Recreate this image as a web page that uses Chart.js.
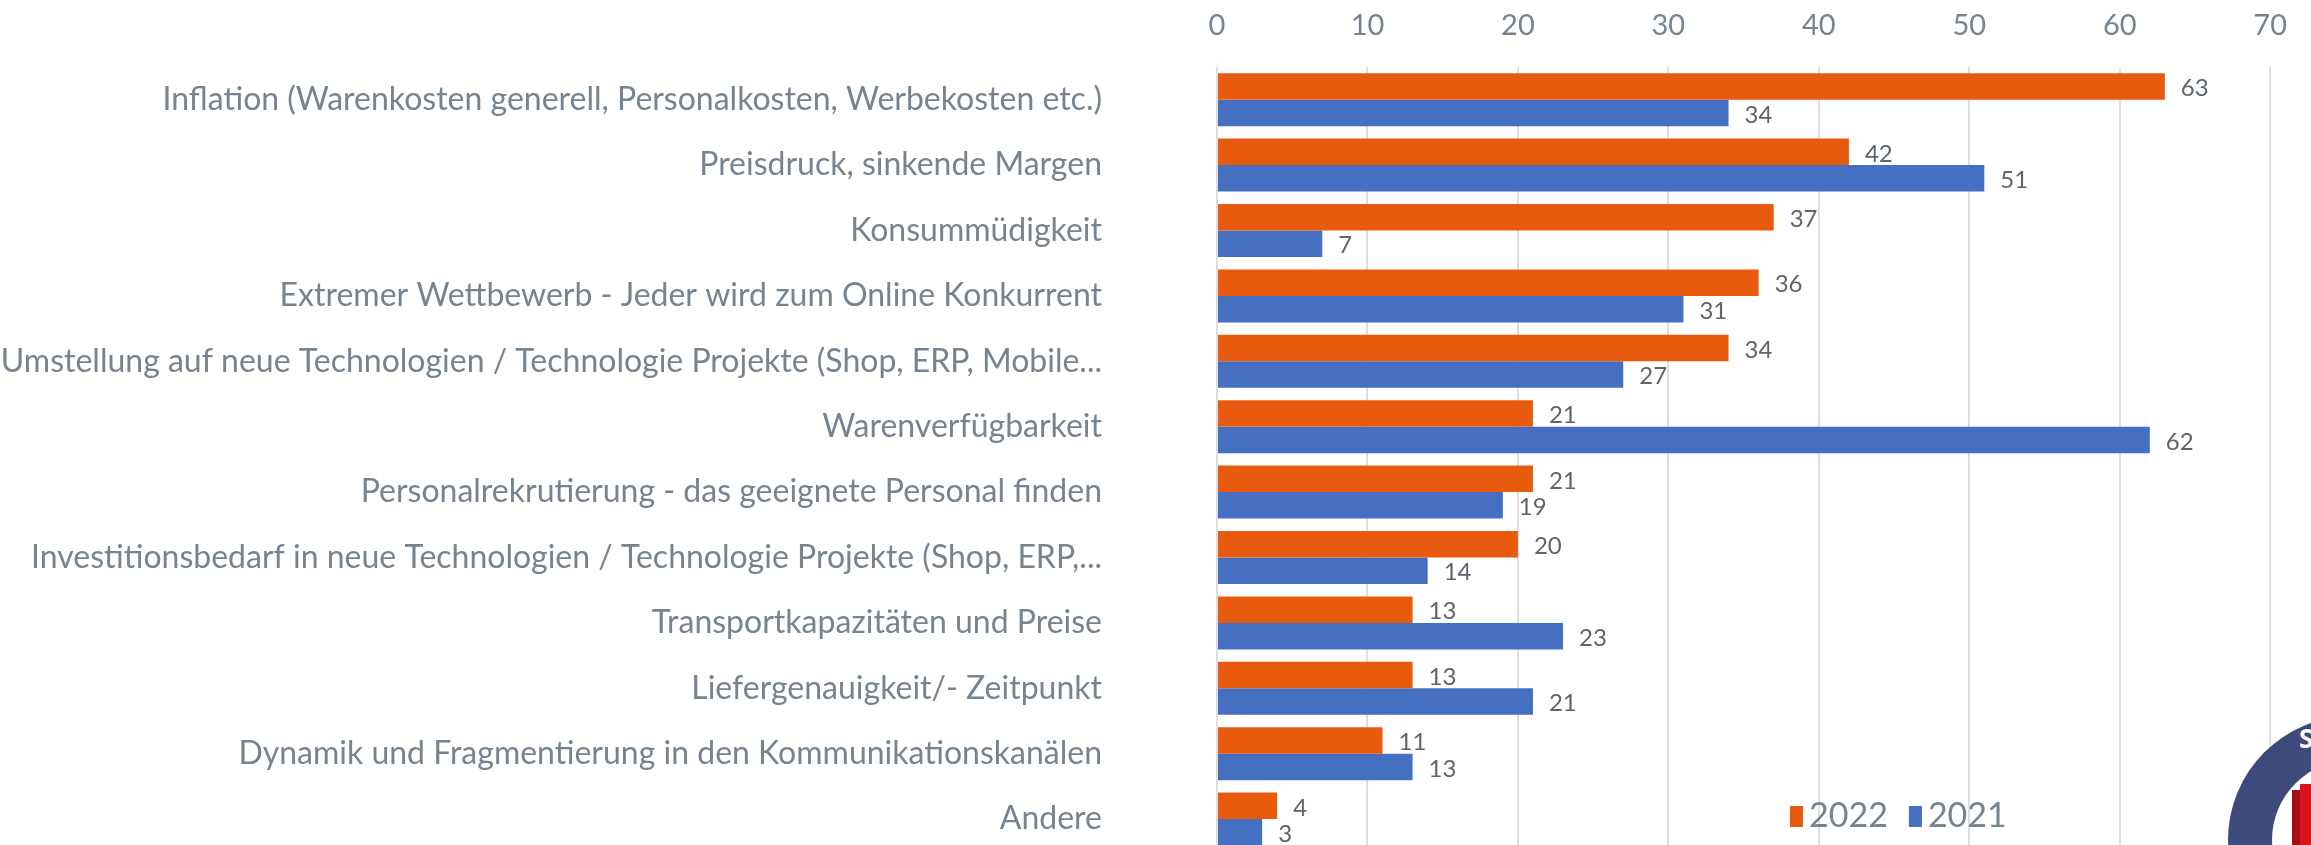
<!DOCTYPE html>
<html>
<head>
<meta charset="utf-8">
<script src="https://cdn.jsdelivr.net/npm/chart.js@4"></script>
<style>
  html, body { margin: 0; padding: 0; background: #fff; overflow: hidden; }
  #wrap { width: 2311px; height: 879px; }
</style>
</head>
<body>
<div id="wrap"><canvas id="mycanvas" width="2311" height="879"></canvas></div>
<script>
var categories = [
	"Inflation (Warenkosten generell, Personalkosten, Werbekosten etc.)",
	"Preisdruck, sinkende Margen",
	"Konsummüdigkeit",
	"Extremer Wettbewerb - Jeder wird zum Online Konkurrent",
	"Umstellung auf neue Technologien / Technologie Projekte (Shop, ERP, Mobile...",
	"Warenverfügbarkeit",
	"Personalrekrutierung - das geeignete Personal finden",
	"Investitionsbedarf in neue Technologien / Technologie Projekte (Shop, ERP,...",
	"Transportkapazitäten und Preise",
	"Liefergenauigkeit/- Zeitpunkt",
	"Dynamik und Fragmentierung in den Kommunikationskanälen",
	"Andere"
];
var seriesNames = ["2022", "2021"];
var values2022 = [63, 42, 37, 36, 34, 21, 21, 20, 13, 13, 11, 4];
var values2021 = [34, 51, 7, 31, 27, 62, 19, 14, 23, 21, 13, 3];
var axisMin = 0;
var axisMax = 70;
var axisStep = 10;

var textGray = '#77838f';
var colors = ['#e85b0e', '#4570c2'];

// numbers printed right of each bar
var valueLabels = {
	id: 'valueLabels',
	afterDatasetsDraw: function(chart) {
		var ctx = chart.ctx;
		ctx.save();
		ctx.font = '24px Lato';
		ctx.fillStyle = '#5d646b';
		ctx.textBaseline = 'middle';
		chart.data.datasets.forEach(function(ds, i) {
			chart.getDatasetMeta(i).data.forEach(function(bar, j) {
				ctx.fillText(ds.data[j], bar.x + 16, bar.y + 2);
			});
		});
		ctx.restore();
	}
};

// legend sits inside the plot, bottom right
var insideLegend = {
	id: 'insideLegend',
	afterDraw: function(chart) {
		var ctx = chart.ctx;
		var x = 1790, y = 816;
		ctx.save();
		ctx.font = '34px Lato';
		ctx.textBaseline = 'middle';
		chart.data.datasets.forEach(function(ds) {
			ctx.fillStyle = ds.backgroundColor;
			ctx.fillRect(x, y - 10, 13, 21);
			ctx.fillStyle = textGray;
			ctx.fillText(ds.label, x + 19, y);
			x += 19 + ctx.measureText(ds.label).width + 21;
		});
		ctx.restore();
	}
};

// partial logo cut by the bottom right corner
var logo = {
	id: 'logo',
	afterDraw: function(chart) {
		var ctx = chart.ctx;
		ctx.save();
		ctx.beginPath();
		ctx.arc(2352, 840, 124, 0, Math.PI * 2);
		ctx.fillStyle = '#3d4a7c';
		ctx.fill();
		ctx.beginPath();
		ctx.arc(2352, 840, 80, 0, Math.PI * 2);
		ctx.fillStyle = '#fff';
		ctx.fill();
		ctx.fillStyle = '#a80d14';
		ctx.fillRect(2292, 790, 8, 60);
		ctx.fillStyle = '#d9141c';
		ctx.fillRect(2300, 784, 14, 66);
		ctx.fillStyle = '#fff';
		ctx.font = 'bold 26px "Open Sans"';
		ctx.textBaseline = 'middle';
		ctx.fillText('S', 2299, 741);
		ctx.restore();
	}
};

var chartdata = {
	labels: categories,
	datasets: [
		{
			label: seriesNames[0],
			backgroundColor: colors[0],
			data: values2022
		},
		{
			label: seriesNames[1],
			backgroundColor: colors[1],
			data: values2021
		}
	]
};

var ctx = document.getElementById('mycanvas');
var barGraph = new Chart(ctx, {
	type: 'bar',
	data: chartdata,
	plugins: [valueLabels, insideLegend, logo],
	options: {
		indexAxis: 'y',
		responsive: false,
		animation: false,
		layout: { padding: { top: 8, right: 40, bottom: 0, left: 0 } },
		datasets: {
			bar: { categoryPercentage: 0.81, barPercentage: 1.0 }
		},
		plugins: {
			legend: { display: false },
			tooltip: { enabled: false }
		},
		scales: {
			x: {
				position: 'top',
				min: axisMin,
				max: axisMax,
				grid: { color: '#dedede', lineWidth: 2, drawTicks: false },
				border: { display: false },
				afterFit: function(scale) { scale.height = 59; },
				ticks: {
					stepSize: axisStep,
					color: textGray,
					padding: 24,
					font: { family: 'Lato', size: 29 }
				}
			},
			y: {
				grid: { display: false, drawTicks: true, tickLength: 107 },
				border: { display: false },
				afterFit: function(scale) { scale.width = 1217; },
				ticks: {
					color: textGray,
					padding: 8,
					autoSkip: false,
					font: { family: 'Lato', size: 32 }
				}
			}
		}
	}
});
</script>
</body>
</html>
